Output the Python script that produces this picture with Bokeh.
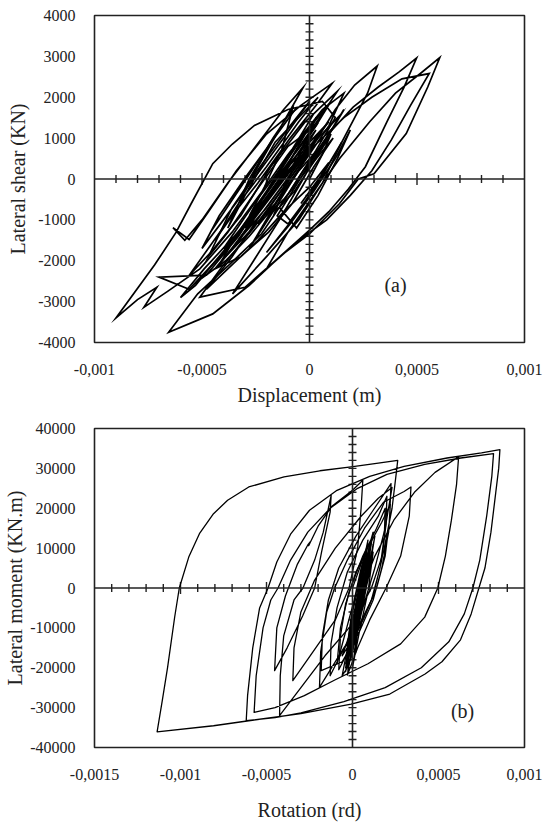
from bokeh.plotting import figure
from bokeh.layouts import column
from bokeh.models import Range1d, FixedTicker, Span, Label
from bokeh.embed import file_html
from bokeh.resources import INLINE

FONT = "Liberation Serif"

# ---------------- data: panel (a) ----------------
disp_a = [0.0, 0.6e-4, 1.0e-4, 0.3e-4, -0.7e-4, -1.6e-4, -1.0e-4, -0.3e-4, 0.3e-4, -0.5e-4,
          -1.6e-4, -2.8e-4, -2.1e-4, -1.3e-4, -0.8e-4, -1.7e-4, -2.8e-4, -3.8e-4, -3.0e-4, -1.6e-4,
          0.4e-4, -0.5e-4, -2.0e-4, -3.3e-4, -4.4e-4, -3.6e-4, -2.4e-4, -1.2e-4, -0.3e-4, -1.2e-4,
          -2.5e-4, -3.8e-4, -5.0e-4, -5.8e-4, -6.35e-4, -5.6e-4, -4.7e-4, -3.4e-4, -2.0e-4, -0.4e-4,
          1.05e-4, 0.3e-4, -0.9e-4, -2.4e-4, -3.9e-4, -5.6e-4, -4.6e-4, -3.2e-4, -1.8e-4, -0.2e-4,
          1.3e-4, 0.6e-4, -0.6e-4, -2.0e-4, -3.3e-4, -4.2e-4, -3.3e-4, -2.0e-4, -0.6e-4, 0.6e-4,
          1.6e-4, 0.9e-4, -0.4e-4, -1.7e-4, -2.8e-4, -1.9e-4, -0.8e-4, 0.5e-4, 1.2e-4, 2.1e-4,
          3.15e-4, 2.7e-4, 1.46e-4, 0.6e-4, -0.5e-4, -2.0e-4, -3.58e-4, -2.6e-4, -1.4e-4, -0.3e-4,
          0.89e-4, 2.03e-4, 3.2e-4, 4.17e-4, 4.98e-4, 4.4e-4, 3.6e-4, 2.6e-4, 1.8e-4, 0.9e-4,
          0.0, -1.25e-4, -3.0e-4, -5.1e-4, -4.0e-4, -2.6e-4, -1.2e-4, 0.2e-4, 1.6e-4, 2.9e-4,
          4.3e-4, 5.57e-4, 4.7e-4, 3.8e-4, 2.9e-4, 1.9e-4, 0.8e-4, -0.5e-4, -2.0e-4, -1.0e-4,
          0.2e-4, 1.4e-4, 2.8e-4, 4.0e-4, 5.2e-4, 6.06e-4, 5.5e-4, 4.5e-4, 3.0e-4, 2.27e-4,
          1.4e-4, 0.0, -1.25e-4, -2.8e-4, -4.5e-4, -6.55e-4, -5.2e-4, -3.7e-4, -2.23e-4, -0.9e-4,
          0.3e-4, 1.2e-4, 0.6e-4, -1.0e-4, -2.56e-4, -3.6e-4, -4.5e-4, -5.5e-4, -6.2e-4, -7.2e-4,
          -9.0e-4, -8.0e-4, -7.1e-4, -7.7e-4, -6.6e-4, -5.1e-4, -3.6e-4, -2.2e-4, -1.0e-4, 0.2e-4,
          1.0e-4, 0.3e-4, -1.0e-4, -2.2e-4, -3.3e-4, -4.8e-4, -7.0e-4, -5.6e-4, -4.0e-4, -2.5e-4,
          -1.0e-4, 0.3e-4, -0.4e-4, -1.8e-4, -3.0e-4, -2.0e-4, -0.6e-4, 0.2e-4]
shear_a = [0, 600, 1100, 500, -300, -800, 0, 800, 1500, 900,
           0, -900, -200, 700, 1700, 1000, 0, -1200, -400, 900,
           2000, 1400, 300, -600, -1500, -900, 300, 1400, 2235, 1700,
           800, -100, -1000, -1500, -1190, -1480, -800, 200, 1100, 1800,
           2340, 1800, 1000, -100, -1100, -2360, -1800, -900, 300, 1400,
           2150, 1600, 700, -500, -1500, -2100, -1300, -300, 900, 1700,
           2100, 1300, 300, -800, -1700, -900, 100, 1100, 1700, 2300,
           2765, 2100, 860, -100, -1000, -1900, -2810, -2000, -1000, 0,
           1110, 1760, 2250, 2620, 2960, 2250, 1400, 300, -250, -800,
           -1250, -1840, -2650, -2890, -2100, -1200, -200, 800, 1500, 2000,
           2450, 2580, 1800, 950, 200, -400, -1000, -1500, -2200, -1300,
           -400, 500, 1400, 2100, 2600, 2970, 2250, 1110, 130, 0,
           -600, -1340, -1840, -2600, -3300, -3750, -2810, -2080, -1340, -300,
           700, 1500, 1900, 1700, 1310, 850, 375, -600, -1300, -2100,
           -3400, -2950, -2650, -3140, -2750, -2200, -1300, -300, 600, 1400,
           1900, 1300, 400, -500, -1400, -2350, -2400, -2700, -1800, -800,
           300, 1200, 600, -400, -1200, -300, 900, 1600]

# dense central cycles of panel (a)
disp_a_core = [-4.6e-4, -3.2e-4, -1.8e-4, -0.6e-4, -1.5e-4, -2.9e-4, -4.2e-4, -5.0e-4, -4.0e-4, -2.6e-4,
               -1.2e-4, 0.0, -0.9e-4, -2.3e-4, -3.6e-4, -4.7e-4, -3.8e-4, -2.5e-4, -1.0e-4, 0.3e-4,
               -0.7e-4, -2.0e-4, -3.4e-4, -2.6e-4, -1.4e-4, -0.2e-4, 0.8e-4, -0.1e-4, -1.3e-4, -2.7e-4,
               -4.0e-4, -3.0e-4, -1.7e-4, -0.4e-4, 0.6e-4, -0.3e-4, -1.6e-4, -3.0e-4, -3.9e-4, -2.9e-4,
               -1.6e-4, -0.3e-4, 0.9e-4, 0.0, -1.2e-4, -2.4e-4, -1.2e-4, 0.0, 1.1e-4, 0.2e-4,
               -0.8e-4, -1.9e-4, -3.2e-4, -4.4e-4, -3.3e-4, -2.0e-4, -0.9e-4, 0.4e-4, 1.5e-4, 0.7e-4,
               -0.5e-4, -1.7e-4, -2.8e-4, -3.9e-4, -5.2e-4, -4.0e-4, -2.8e-4, -1.5e-4, -0.4e-4, -1.4e-4,
               -2.6e-4, -3.9e-4, -5.3e-4, -6.0e-4, -4.9e-4, -3.5e-4, -2.2e-4, -1.0e-4, 0.2e-4, -0.9e-4,
               -2.3e-4, -3.6e-4, -4.8e-4, -3.8e-4, -2.4e-4, -1.2e-4, 0.0, 0.9e-4, 0.0, -1.0e-4,
               -1.5e-4, -0.2e-4, 0.8e-4, 1.6e-4, 0.9e-4, -0.3e-4, -1.4e-4, -0.6e-4, 0.4e-4, 1.3e-4,
               1.9e-4, 1.2e-4, 0.2e-4, -0.9e-4, -2.0e-4, -0.8e-4, 0.5e-4, 1.5e-4, 0.7e-4, -0.4e-4]
shear_a_core = [-1300, -200, 900, 1750, 1100, 100, -900, -1700, -1000, 0,
                1000, 1900, 1300, 300, -700, -1900, -1300, -300, 800, 1300,
                500, -500, -1600, -1000, 0, 1100, 1800, 1200, 300, -700,
                -1700, -1100, -100, 700, 1200, 400, -600, -1400, -1900, -1200,
                -300, 600, 1400, 900, -200, -1100, -500, 300, 1000, 300,
                -600, -1300, -1900, -2200, -1500, -700, 100, 1000, 1600, 900,
                200, -700, -1400, -2000, -2500, -1800, -1000, -200, 600, 100,
                -800, -1700, -2600, -2900, -2200, -1400, -600, 200, 900, 100,
                -900, -1900, -2700, -2200, -1500, -800, -200, 400, -400, -1100,
                -900, 200, 1000, 1700, 1100, 200, -700, -1200, -400, 500,
                1200, 500, -300, -1100, -1800, -1000, 0, 900, 200, -600]

# ---------------- data: panel (b) ----------------
rot_b = [0.0, 0.5e-4, 0.9e-4, 0.6e-4, 0.1e-4, -0.3e-4, 0.0, 0.5e-4, 1.0e-4, 0.7e-4,
         0.2e-4, -0.2e-4, 0.2e-4, 0.7e-4, 1.1e-4, 0.8e-4, 0.3e-4, -0.1e-4, 0.3e-4, 0.9e-4,
         1.2e-4, 0.9e-4, 0.4e-4, 0.0, 0.3e-4, 0.8e-4, 1.3e-4, 0.9e-4, 0.5e-4, 0.1e-4,
         0.4e-4, 0.9e-4, 1.2e-4, 0.7e-4, 0.2e-4, -0.4e-4, 0.1e-4, 0.6e-4, 1.0e-4, 0.6e-4,
         0.2e-4, -0.5e-4, -0.8e-4, -0.7e-4, -0.4e-4, 0.2e-4, 1.0e-4, 1.7e-4, 2.2e-4, 2.1e-4,
         1.7e-4, 1.2e-4, 0.4e-4, -0.6e-4, -1.82e-4, -1.75e-4, -1.4e-4, -0.8e-4, 0.2e-4, 1.2e-4,
         2.24e-4, 2.15e-4, 1.9e-4, 1.4e-4, 0.6e-4, -0.5e-4, -1.92e-4, -1.85e-4, -1.5e-4, -1.04e-4,
         -0.3e-4, 0.7e-4, 1.8e-4, 3.0e-4, 3.4e-4, 3.3e-4, 2.8e-4, 1.95e-4, 1.0e-4, 0.3e-4,
         -0.27e-4, -0.2e-4, 0.4e-4, 1.3e-4, 2.4e-4, 3.6e-4, 4.8e-4, 6.17e-4, 6.05e-4, 5.75e-4,
         5.4e-4, 4.96e-4, 4.2e-4, 2.8e-4, 0.9e-4, -1.0e-4, -2.8e-4, -4.5e-4, -5.72e-4, -5.6e-4,
         -5.2e-4, -4.75e-4, -4.33e-4, -3.6e-4, -2.6e-4, -1.3e-4, 0.3e-4, 2.0e-4, 4.2e-4, 6.3e-4,
         8.2e-4, 8.1e-4, 7.8e-4, 7.4e-4, 7.0e-4, 6.5e-4, 5.6e-4, 4.0e-4, 1.9e-4, -0.5e-4,
         -3.0e-4, -4.5e-4, -6.18e-4, -6.1e-4, -5.8e-4, -5.4e-4, -4.91e-4, -4.4e-4, -3.6e-4, -2.5e-4,
         -0.9e-4, 1.0e-4, 3.0e-4, 5.5e-4, 7.5e-4, 8.57e-4, 8.5e-4, 8.33e-4, 8.05e-4, 7.7e-4,
         7.35e-4, 6.9e-4, 6.28e-4, 5.2e-4, 4.22e-4, 2.17e-4, -0.08e-4, -3.0e-4, -6.03e-4, -8.08e-4,
         -11.36e-4, -11.05e-4, -10.75e-4, -10.34e-4, -10.07e-4, -9.52e-4, -8.9e-4, -8.08e-4, -7.26e-4, -6.03e-4,
         -3.98e-4, -1.9e-4, -0.08e-4, 1.5e-4, 2.63e-4, 2.55e-4, 2.3e-4, 1.8e-4, 1.1e-4, 0.0,
         -1.6e-4, -3.0e-4, -4.24e-4, -4.2e-4, -4.0e-4, -3.4e-4, -2.88e-4, -2.2e-4, -1.7e-4, -1.24e-4,
         -1.3e-4, -1.8e-4, -2.2e-4, -2.9e-4, -3.8e-4, -4.53e-4, -4.4e-4, -3.9e-4, -3.2e-4, -2.6e-4,
         -2.45e-4, -2.55e-4, -2.0e-4, -1.2e-4, 0.0, 0.6e-4, 0.5e-4, 0.3e-4, -0.2e-4, -1.0e-4,
         -2.3e-4, -3.47e-4, -3.4e-4, -3.0e-4, -2.2e-4, -1.0e-4, 0.5e-4, 1.5e-4, 2.3e-4, 1.9e-4,
         1.3e-4, 0.6e-4, 0.0, -0.3e-4]
moment_b = [0, 6000, 11000, 3000, -7000, -14000, -6000, 3000, 10000, 1000,
            -9000, -17000, -8000, 2000, 12000, 3000, -8000, -18000, -9000, 2000,
            9000, -1000, -11000, -20000, -11000, 0, 13000, 4000, -6000, -16000,
            -8000, 3000, 11000, -1000, -13000, -19000, -9000, 2000, 8000, -3000,
            -12000, -18000, -20500, -12000, -4000, 4000, 11000, 16500, 21000, 14000,
            5000, -3000, -11000, -18500, -20730, -12000, -3000, 5000, 13000, 19500,
            26170, 17000, 8000, 0, -8000, -15000, -24920, -16000, -6000, 0,
            7000, 15000, 21500, 24200, 25330, 18000, 8000, 0, -8000, -15000,
            -21570, -12000, -2000, 8000, 17000, 24000, 29000, 32900, 26000, 17000,
            8000, 0, -7300, -14000, -19000, -23000, -27000, -30000, -31200, -22000,
            -10000, -3000, 0, 7000, 14000, 20000, 25000, 28500, 31000, 32600,
            33700, 28000, 18000, 7000, 0, -6500, -13500, -20000, -25000, -28500,
            -31300, -32500, -33290, -27000, -15000, -5000, 0, 6500, 13500, 19500,
            24500, 28000, 30500, 32600, 33900, 34710, 30000, 24000, 14000, 5000,
            0, -6500, -13000, -18500, -21570, -26590, -29100, -31500, -33290, -34550,
            -36060, -28000, -19890, -7330, 0, 7750, 13610, 18630, 21990, 25340,
            27850, 29400, 30360, 31300, 32030, 29000, 20000, 9000, 0, -9000,
            -17000, -25000, -32030, -22000, -12000, -3000, 0, 7000, 14000, 23240,
            19000, 9000, 0, -7000, -15000, -20730, -10000, -2000, 6000, 10800,
            11600, 10600, 15500, 20500, 24500, 27010, 20000, 10000, 0, -8000,
            -16000, -23240, -15000, -6000, 2000, 10000, 18000, 22500, 25200, 15000,
            5000, -5000, -14000, -22000]

# dense central cycles of panel (b)
rot_b_core = [0.2e-4, 0.6e-4, 0.9e-4, 1.1e-4, 0.8e-4, 0.4e-4, 0.0, -0.3e-4, 0.1e-4, 0.5e-4,
              0.8e-4, 1.0e-4, 0.7e-4, 0.3e-4, -0.1e-4, -0.4e-4, -0.1e-4, 0.3e-4, 0.7e-4, 1.0e-4,
              1.2e-4, 0.9e-4, 0.5e-4, 0.1e-4, -0.2e-4, 0.2e-4, 0.6e-4, 0.9e-4, 0.6e-4, 0.2e-4,
              -0.1e-4, 0.3e-4, 0.8e-4, 1.1e-4, 0.8e-4, 0.4e-4, 0.0, -0.3e-4, -0.6e-4, -0.2e-4,
              0.2e-4, 0.6e-4, -0.9e-4, -0.7e-4, -0.2e-4, 0.6e-4, 1.4e-4, 1.9e-4, 1.85e-4, 1.6e-4,
              1.1e-4, 0.3e-4, -0.6e-4, -1.3e-4, -1.25e-4, -0.9e-4, -0.3e-4, 0.6e-4, 1.5e-4, 2.0e-4,
              1.95e-4, 1.7e-4, 1.2e-4, 0.4e-4, -0.6e-4, -0.2e-4, 0.1e-4, 0.5e-4, 0.8e-4, 0.5e-4,
              0.1e-4, -0.3e-4, -0.1e-4, 0.3e-4, 0.7e-4, 0.9e-4, 0.6e-4, 0.2e-4, -0.2e-4, -0.4e-4,
              0.0, 0.4e-4, 0.8e-4]
moment_b_core = [-4000, 3000, 9000, 12000, 5000, -3000, -11000, -18000, -9000, 0,
                 7000, 10000, 2000, -7000, -15000, -21000, -12000, -3000, 5000, 11000,
                 14000, 6000, -4000, -13000, -19000, -10000, -1000, 8000, 0, -9000,
                 -17000, -8000, 2000, 9000, 1000, -8000, -16000, -20000, -22000, -13000,
                 -4000, 5000, -19000, -10000, -1000, 8000, 15000, 20000, 13000, 5000,
                 -3000, -10000, -16000, -22000, -14000, -5000, 4000, 12000, 18000, 23000,
                 16000, 7000, -2000, -10000, -17000, -12000, -3000, 5000, 10000, 3000,
                 -6000, -15000, -8000, 1000, 8000, 12000, 4000, -5000, -14000, -20000,
                 -11000, -1000, 7000]

# ---------------- axes ----------------
xticks_a = [-0.001, -0.0005, 0, 0.0005, 0.001]
xlabels_a = ["-0,001", "-0,0005", "0", "0,0005", "0,001"]
yticks_a = [-4000, -3000, -2000, -1000, 0, 1000, 2000, 3000, 4000]
ylabels_a = ["-4000", "-3000", "-2000", "-1000", "0", "1000", "2000", "3000", "4000"]

xticks_b = [-0.0015, -0.001, -0.0005, 0, 0.0005, 0.001]
xlabels_b = ["-0,0015", "-0,001", "-0,0005", "0", "0,0005", "0,001"]
yticks_b = [-40000, -30000, -20000, -10000, 0, 10000, 20000, 30000, 40000]
ylabels_b = ["-40000", "-30000", "-20000", "-10000", "0", "10000", "20000", "30000", "40000"]


def make_panel(xr, yr, xt, xl, yt, yl, xlab, ylab, borders, height, xstand, ystand):
    left, right, top, bottom = borders
    p = figure(width=554, height=height, x_range=Range1d(*xr), y_range=Range1d(*yr),
               output_backend="svg", toolbar_location=None,
               min_border_left=left, min_border_right=right,
               min_border_top=top, min_border_bottom=bottom)
    p.background_fill_color = "white"
    p.border_fill_color = "white"
    p.outline_line_color = "#222222"
    p.outline_line_width = 1.6
    p.xgrid.visible = False
    p.ygrid.visible = False
    p.xaxis.ticker = FixedTicker(ticks=xt)
    p.yaxis.ticker = FixedTicker(ticks=yt)
    p.xaxis.major_label_overrides = {t: s for t, s in zip(xt, xl)}
    p.yaxis.major_label_overrides = {t: s for t, s in zip(yt, yl)}
    for ax in (p.xaxis[0], p.yaxis[0]):
        ax.axis_line_color = None
        ax.major_tick_line_color = None
        ax.minor_tick_line_color = None
        ax.major_label_text_font = FONT
        ax.major_label_text_font_size = "16px"
        ax.major_label_text_color = "#222222"
        ax.axis_label_text_font = FONT
        ax.axis_label_text_font_size = "20px"
        ax.axis_label_text_font_style = "normal"
        ax.axis_label_text_color = "#222222"
    p.xaxis.axis_label = xlab
    p.yaxis.axis_label = ylab
    p.xaxis.major_label_standoff = 15
    p.yaxis.major_label_standoff = 13
    p.xaxis.axis_label_standoff = xstand
    p.yaxis.axis_label_standoff = ystand
    p.add_layout(Span(location=0, dimension="width", line_color="#222222", line_width=1.6))
    p.add_layout(Span(location=0, dimension="height", line_color="#222222", line_width=1.6))
    return p


pa = make_panel((-0.001, 0.001), (-4000, 4000), xticks_a, xlabels_a, yticks_a, ylabels_a,
                "Displacement (m)", "Lateral shear (KN)", (94, 29, 15, 68), 410, 6, 6)
pb = make_panel((-0.0015, 0.001), (-40000, 40000), xticks_b, xlabels_b, yticks_b, ylabels_b,
                "Rotation (rd)", "Lateral moment (KN.m)", (93, 30, 18, 76), 413, 16, 1)

# cross-axis ticks (a)
fw_a, fh_a = 554 - 94 - 29, 410 - 15 - 68
dx_a, dy_a = 0.002 / fw_a, 8000 / fh_a
ka = [k for k in range(-9, 10) if k != 0]
xt_minor_a = [round(k * 1e-4, 6) for k in ka]
hx = [6 * dy_a if k % 5 == 0 else 4 * dy_a for k in ka]
pa.segment(x0=xt_minor_a, y0=[-h for h in hx], x1=xt_minor_a, y1=hx, line_color="#222222", line_width=1.4)
yt_minor_a = [k * 200 for k in range(-19, 20) if k != 0]
hy = [4 * dx_a for _ in yt_minor_a]
pa.segment(x0=[-h for h in hy], y0=yt_minor_a, x1=hy, y1=yt_minor_a, line_color="#222222", line_width=1.4)

pa.line(disp_a, shear_a, line_color="black", line_width=1.7, line_join="miter")
pa.line(disp_a_core, shear_a_core, line_color="black", line_width=1.7, line_join="miter")
pa.add_layout(Label(x=0.0004, y=-2590, text="(a)", text_align="center", text_baseline="middle",
                    text_font=FONT, text_font_size="20px", text_color="#222222"))

# cross-axis ticks (b)
fw_b, fh_b = 554 - 93 - 30, 413 - 18 - 76
dx_b, dy_b = 0.0025 / fw_b, 80000 / fh_b
kb = [k for k in range(-14, 10) if k != 0]
xt_minor_b = [round(k * 1e-4, 6) for k in kb]
hxb = [6 * dy_b if k % 5 == 0 else 4 * dy_b for k in kb]
pb.segment(x0=xt_minor_b, y0=[-h for h in hxb], x1=xt_minor_b, y1=hxb, line_color="#222222", line_width=1.4)
yt_minor_b = [k * 2000 for k in range(-19, 20) if k != 0]
hyb = [4 * dx_b for _ in yt_minor_b]
pb.segment(x0=[-h for h in hyb], y0=yt_minor_b, x1=hyb, y1=yt_minor_b, line_color="#222222", line_width=1.4)

pb.line(rot_b, moment_b, line_color="black", line_width=1.3, line_join="round")
pb.line(rot_b_core, moment_b_core, line_color="black", line_width=1.3, line_join="round")
pb.add_layout(Label(x=0.00064, y=-30800, text="(b)", text_align="center", text_baseline="middle",
                    text_font=FONT, text_font_size="20px", text_color="#222222"))

layout = column(pa, pb, spacing=0)
open("out.html", "w").write(file_html(layout, INLINE))
